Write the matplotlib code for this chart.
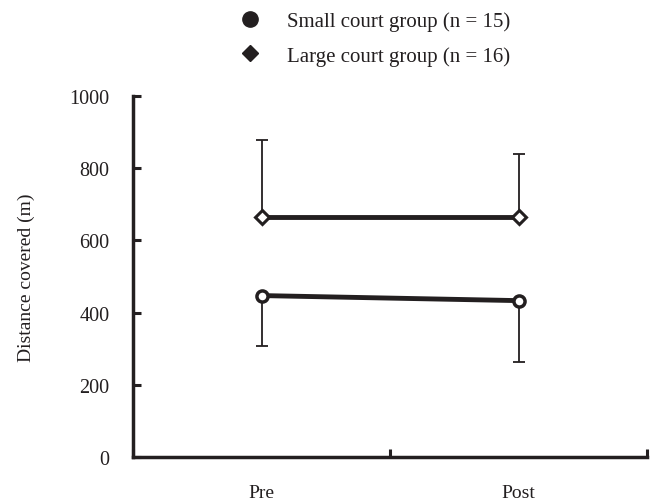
import matplotlib
matplotlib.use("Agg")
import matplotlib.pyplot as plt
from matplotlib.lines import Line2D

plt.rcParams['font.family'] = ['Liberation Serif', 'DejaVu Serif']

categories = ["Pre", "Post"]
small_mean = [447, 433]
small_sd = [140, 169]
large_mean = [664, 664]
large_sd = [214, 175]
yticks = [0, 200, 400, 600, 800, 1000]

fig = plt.figure(figsize=(6.57, 5.02), dpi=100)
ax = fig.add_axes([0.2024, 0.0876, 0.7826, 0.7195])

x = list(range(len(categories)))

# error bars (one-sided)
ax.errorbar(x, large_mean, yerr=[[0]*len(x), large_sd], fmt='none', ecolor='#231f20',
            elinewidth=1.3, capsize=4.5, capthick=1.3, zorder=2)
ax.errorbar(x, small_mean, yerr=[small_sd, [0]*len(x)], fmt='none', ecolor='#231f20',
            elinewidth=1.3, capsize=4.5, capthick=1.3, zorder=2)

ax.plot(x, large_mean, color='#231f20', lw=3.5, marker='D', ms=7, mfc='white',
        mec='#231f20', mew=2.2, zorder=3)
ax.plot(x, small_mean, color='#231f20', lw=3.5, marker='o', ms=8, mfc='white',
        mec='#231f20', mew=2.5, zorder=3)

ax.set_xlim(-0.5, 1.5)
ax.set_ylim(0, 1000)
ax.set_yticks(yticks)
ax.set_yticklabels([str(v) for v in yticks])
ax.set_xticks([-0.5, 0.5, 1.5])
ax.set_xticklabels([])
ax.tick_params(axis='x', direction='in', length=6, width=2.2, color='#231f20')
ax.tick_params(axis='y', direction='in', length=6, width=2.2, color='#231f20',
               labelsize=14.5, pad=17, labelcolor='#231f20')
for i, c in enumerate(categories):
    ax.text(i, -75, c, ha='center', va='top', fontsize=14, color='#231f20')

for s in ['top', 'right']:
    ax.spines[s].set_visible(False)
for s in ['left', 'bottom']:
    ax.spines[s].set_linewidth(2.5)
    ax.spines[s].set_color('#231f20')

ax.set_ylabel("Distance covered (m)", fontsize=14, color='#231f20', labelpad=25)

handles = [
    Line2D([], [], ls='none', marker='o', ms=11, color='#231f20'),
    Line2D([], [], ls='none', marker='D', ms=8, color='#231f20'),
]
labels = ["Small court group (n = 15)", "Large court group (n = 16)"]
fig.legend(handles, labels, loc='upper left', bbox_to_anchor=(0.32, 1.012),
           frameon=False, fontsize=15, handletextpad=0.8, labelspacing=0.7,
           labelcolor='#231f20')

fig.savefig("out.png", dpi=100)
